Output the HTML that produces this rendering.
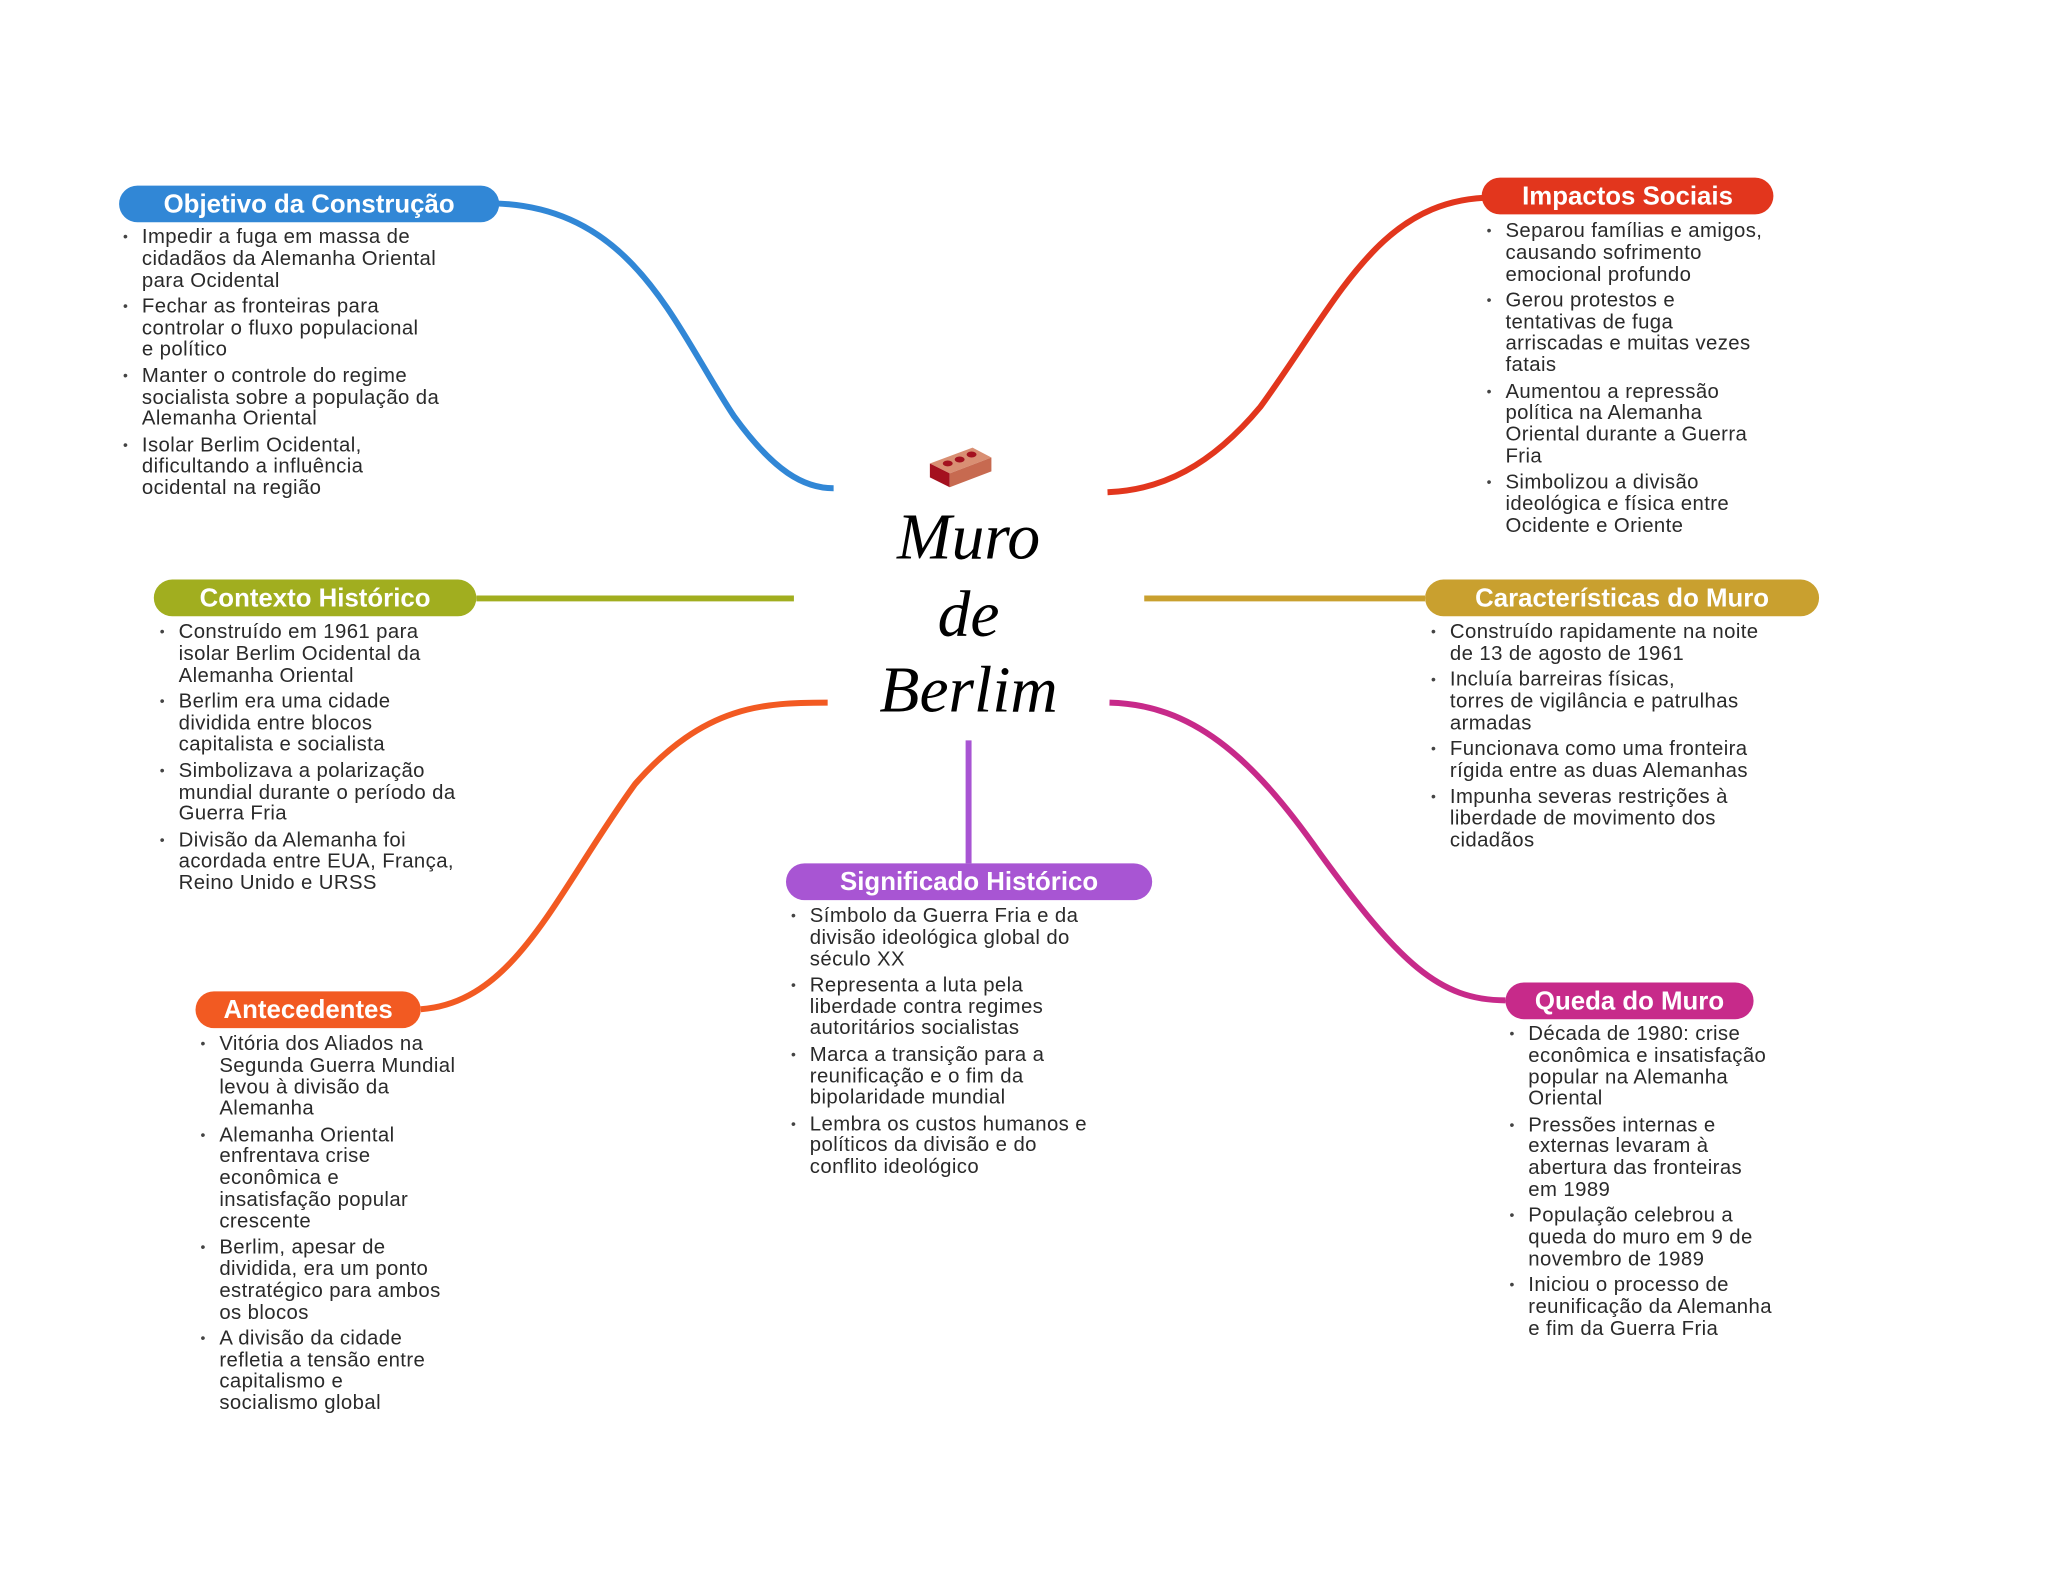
<!DOCTYPE html>
<html><head><meta charset="utf-8"><style>
body{margin:0;width:2048px;height:1569px;background:#fff;position:relative;overflow:hidden;font-family:"Liberation Sans",sans-serif}
#w{position:absolute;left:0;top:0;width:2048px;height:1569px;transform:scale(0.9924);transform-origin:0 0}
.pill{position:absolute;height:37px;border-radius:19px;color:#fff;font-weight:bold;font-size:26px;line-height:37px;text-align:center;white-space:nowrap}
ul{position:absolute;margin:0;padding:0;list-style:none;color:#2a2a2a;font-size:20.5px;letter-spacing:0.4px;line-height:21.8px;white-space:nowrap}
li{position:relative;margin-bottom:4.5px}
li:before{content:"•";position:absolute;left:-19px;font-size:14px;color:#444}
.t{position:absolute;font-family:"Liberation Serif",serif;font-style:italic;font-size:66px;color:#000;text-align:center;width:300px;left:826px}
</style></head><body><div id="w">
<svg width="2048" height="1569" style="position:absolute;left:0;top:0" fill="none" stroke-width="6">
<path d="M500,205 C640,210 680,330 740,420 C780,475 810,492 840,492" stroke="#3187d6"/>
<path d="M1116,496 C1170,494 1220,470 1270,410 C1350,300 1390,200 1504,199" stroke="#e2361d"/>
<path d="M480,603 H800" stroke="#a1ae1f"/>
<path d="M1153,603 H1436" stroke="#c9a02f"/>
<path d="M424,1017 C520,1010 560,900 640,790 C710,710 770,708 834,708" stroke="#f25a22"/>
<path d="M976,746 V870" stroke="#a855d3"/>
<path d="M1118,708 C1200,710 1260,760 1330,860 C1410,970 1450,1008 1517,1008" stroke="#c72a8a"/>
</svg>
<svg style="position:absolute;left:935px;top:445px" width="70" height="50" viewBox="0 0 70 50">
<polygon points="2,22 45,6 64,16 22,32" fill="#d98f73"/>
<polygon points="2,22 22,32 22,46 2,36" fill="#a4111f"/>
<polygon points="22,32 64,16 64,30 22,46" fill="#c76a50"/>
<ellipse cx="20" cy="22" rx="5" ry="3" fill="#a4111f"/><ellipse cx="32" cy="18" rx="5" ry="3" fill="#a4111f"/><ellipse cx="44" cy="13" rx="5" ry="3" fill="#a4111f"/>
</svg>
<div class="t" style="top:504px">Muro</div>
<div class="t" style="top:582px">de</div>
<div class="t" style="top:658px">Berlim</div>

<div class="pill" style="left:120px;top:187px;width:383px;background:#3187d6">Objetivo da Construção</div>
<ul style="left:143px;top:228px"><li>Impedir a fuga em massa de<br>cidadãos da Alemanha Oriental<br>para Ocidental</li><li>Fechar as fronteiras para<br>controlar o fluxo populacional<br>e político</li><li>Manter o controle do regime<br>socialista sobre a população da<br>Alemanha Oriental</li><li>Isolar Berlim Ocidental,<br>dificultando a influência<br>ocidental na região</li></ul>

<div class="pill" style="left:1493px;top:179px;width:294px;background:#e2361d">Impactos Sociais</div>
<ul style="left:1517px;top:222px"><li>Separou famílias e amigos,<br>causando sofrimento<br>emocional profundo</li><li>Gerou protestos e<br>tentativas de fuga<br>arriscadas e muitas vezes<br>fatais</li><li>Aumentou a repressão<br>política na Alemanha<br>Oriental durante a Guerra<br>Fria</li><li>Simbolizou a divisão<br>ideológica e física entre<br>Ocidente e Oriente</li></ul>

<div class="pill" style="left:155px;top:584px;width:325px;background:#a1ae1f">Contexto Histórico</div>
<ul style="left:180px;top:626px"><li>Construído em 1961 para<br>isolar Berlim Ocidental da<br>Alemanha Oriental</li><li>Berlim era uma cidade<br>dividida entre blocos<br>capitalista e socialista</li><li>Simbolizava a polarização<br>mundial durante o período da<br>Guerra Fria</li><li>Divisão da Alemanha foi<br>acordada entre EUA, França,<br>Reino Unido e URSS</li></ul>

<div class="pill" style="left:1436px;top:584px;width:397px;background:#c9a02f">Características do Muro</div>
<ul style="left:1461px;top:626px"><li>Construído rapidamente na noite<br>de 13 de agosto de 1961</li><li>Incluía barreiras físicas,<br>torres de vigilância e patrulhas<br>armadas</li><li>Funcionava como uma fronteira<br>rígida entre as duas Alemanhas</li><li>Impunha severas restrições à<br>liberdade de movimento dos<br>cidadãos</li></ul>

<div class="pill" style="left:197px;top:999px;width:227px;background:#f25a22">Antecedentes</div>
<ul style="left:221px;top:1041px"><li>Vitória dos Aliados na<br>Segunda Guerra Mundial<br>levou à divisão da<br>Alemanha</li><li>Alemanha Oriental<br>enfrentava crise<br>econômica e<br>insatisfação popular<br>crescente</li><li>Berlim, apesar de<br>dividida, era um ponto<br>estratégico para ambos<br>os blocos</li><li>A divisão da cidade<br>refletia a tensão entre<br>capitalismo e<br>socialismo global</li></ul>

<div class="pill" style="left:792px;top:870px;width:369px;background:#a855d3">Significado Histórico</div>
<ul style="left:816px;top:912px"><li>Símbolo da Guerra Fria e da<br>divisão ideológica global do<br>século XX</li><li>Representa a luta pela<br>liberdade contra regimes<br>autoritários socialistas</li><li>Marca a transição para a<br>reunificação e o fim da<br>bipolaridade mundial</li><li>Lembra os custos humanos e<br>políticos da divisão e do<br>conflito ideológico</li></ul>

<div class="pill" style="left:1517px;top:990px;width:250px;background:#c72a8a">Queda do Muro</div>
<ul style="left:1540px;top:1031px"><li>Década de 1980: crise<br>econômica e insatisfação<br>popular na Alemanha<br>Oriental</li><li>Pressões internas e<br>externas levaram à<br>abertura das fronteiras<br>em 1989</li><li>População celebrou a<br>queda do muro em 9 de<br>novembro de 1989</li><li>Iniciou o processo de<br>reunificação da Alemanha<br>e fim da Guerra Fria</li></ul>
</div></body></html>
